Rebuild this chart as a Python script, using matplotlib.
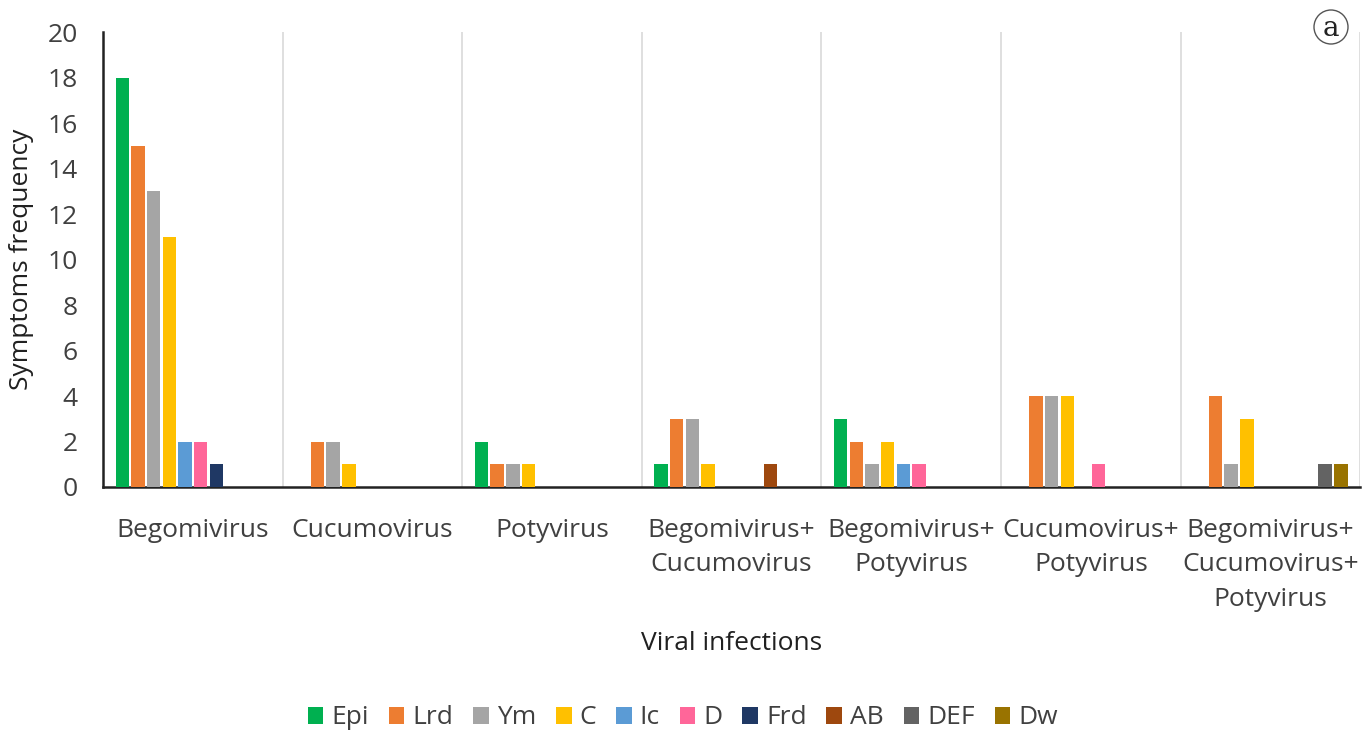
import numpy as np
import matplotlib.pyplot as plt
from matplotlib.patches import Ellipse

# Dados
grupos = ['Begomivirus', 'Cucumovirus', 'Potyvirus', 'Begomivirus+\nCucumovirus',
          'Begomivirus+\nPotyvirus', 'Cucumovirus+\nPotyvirus',
          'Begomivirus+\nCucumovirus+\nPotyvirus']
sintomas = ['Epi', 'Lrd', 'Ym', 'C', 'Ic', 'D', 'Frd', 'AB', 'DEF', 'Dw']
cores = ['#00B050', '#ED7D31', '#A5A5A5', '#FFC000', '#5B9BD5',
         '#FF6699', '#1F3864', '#9E480E', '#636363', '#997300']

epi = [18, 0, 2, 1, 3, 0, 0]
lrd = [15, 2, 1, 3, 2, 4, 4]
ym = [13, 2, 1, 3, 1, 4, 1]
c = [11, 1, 1, 1, 2, 4, 3]
ic = [2, 0, 0, 0, 1, 0, 0]
d = [2, 0, 0, 0, 1, 1, 0]
frd = [1, 0, 0, 0, 0, 0, 0]
ab = [0, 0, 0, 1, 0, 0, 0]
deff = [0, 0, 0, 0, 0, 0, 1]
dw = [0, 0, 0, 0, 0, 0, 1]
series = [epi, lrd, ym, c, ic, d, frd, ab, deff, dw]

plt.rcParams['font.family'] = ['Open Sans', 'DejaVu Sans']
texto = '#404040'
fs = 19

fig = plt.figure(figsize=(13.71, 7.32), dpi=100)
ax = fig.add_axes([0.0751, 0.3347, 0.917, 0.6215])

x = np.arange(len(grupos))
passo = 0.0872
largura = 0.075
for i, (nome, vals, cor) in enumerate(zip(sintomas, series, cores)):
    pos = x + (i - 4.5) * passo
    ax.bar(pos, vals, largura, color=cor, label=nome, zorder=3)

# separadores entre grupos
for b in np.arange(0.5, len(grupos) + 0.5, 1):
    ax.axvline(b, color='#D9D9D9', lw=1.2, zorder=1)

ax.set_xlim(-0.5, len(grupos) - 0.5)
ax.set_ylim(0, 20)
ax.set_yticks(range(0, 21, 2))
ax.set_xticks(x)
ax.set_xticklabels(grupos, fontsize=fs, color=texto, linespacing=1.5)
ax.tick_params(axis='y', labelsize=fs, labelcolor=texto, length=0, pad=18)
ax.tick_params(axis='x', length=0, pad=22)
for s in ['top', 'right']:
    ax.spines[s].set_visible(False)
ax.spines['left'].set_color('#222222')
ax.spines['bottom'].set_color('#222222')
ax.spines['left'].set_linewidth(1.8)
ax.spines['bottom'].set_linewidth(1.8)

ax.set_ylabel('Symptoms frequency', fontsize=fs, color='#202020', labelpad=10)
ax.set_xlabel('Viral infections', fontsize=fs, color='#202020', labelpad=14)

fig.legend(loc='center', bbox_to_anchor=(0.498, 1 - 718 / 732), ncol=10, frameon=False,
           fontsize=fs, handlelength=0.6, handleheight=0.6, handletextpad=0.3,
           columnspacing=0.75, labelcolor=texto)

# marcador do painel
cx, cy, r = 1331, 27, 17
fig.patches.append(Ellipse((cx / 1371, 1 - cy / 732), 2 * r / 1371, 2 * r / 732,
                           transform=fig.transFigure, fill=False, ec='#555555', lw=1))
fig.text(cx / 1371, 1 - (cy + 2) / 732, 'a', ha='center', va='center', fontsize=20,
         family='DejaVu Serif', color='#222222')

fig.savefig('out.png', dpi=100)
